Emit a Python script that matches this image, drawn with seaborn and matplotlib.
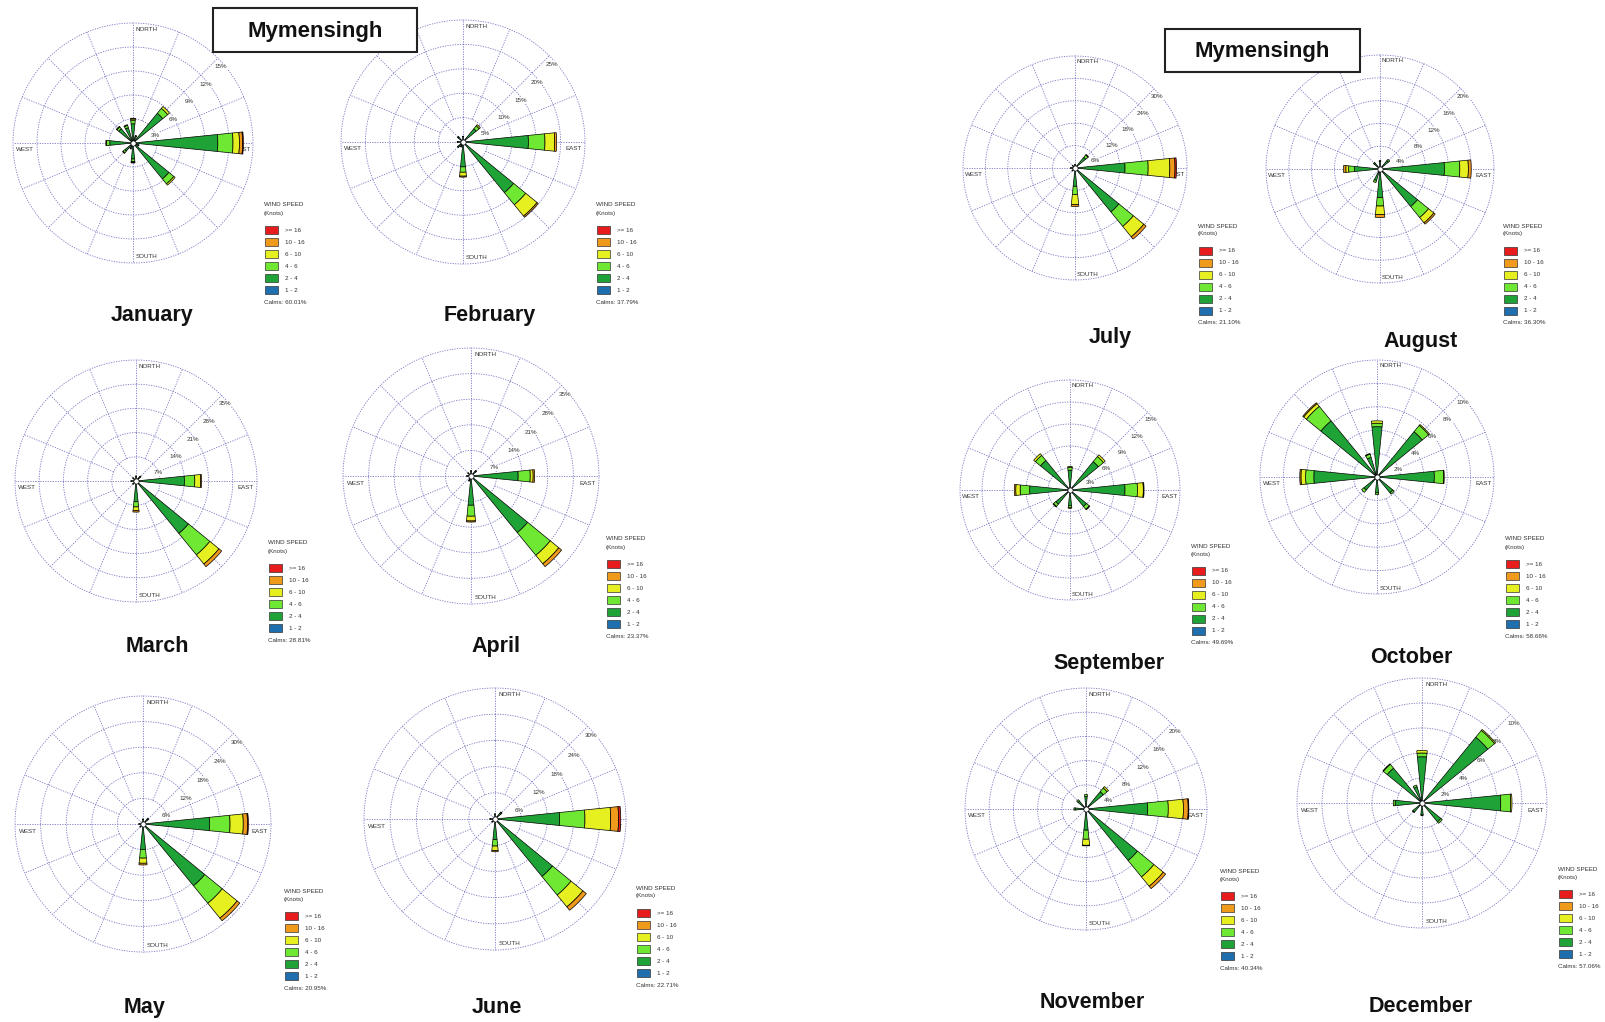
import numpy as np
import matplotlib
matplotlib.use("Agg")
import matplotlib.pyplot as plt
from matplotlib.patches import Rectangle
import seaborn as sns

sns.set_theme(style="white")
plt.rcParams["font.family"] = ["Liberation Sans", "DejaVu Sans"]

W, H = 1606, 1022

# ====== DATA ======
directions = ["N", "NNE", "NE", "ENE", "E", "ESE", "SE", "SSE",
              "S", "SSW", "SW", "WSW", "W", "WNW", "NW", "NNW"]
speed_labels = ["1 - 2", "2 - 4", "4 - 6", "6 - 10", "10 - 16", ">= 16"]
speed_colors = ["#1f6fae", "#1fa236", "#6ee832", "#e6f020", "#f09a1c", "#e81c1c"]

months = ["January", "February", "March", "April", "May", "June",
          "July", "August", "September", "October", "November", "December"]
ring_steps = [3, 5, 7, 7, 6, 6, 6, 4, 3, 2, 4, 2]
calms = [60.01, 37.79, 28.81, 23.37, 20.95, 22.71,
         21.10, 36.30, 49.69, 58.66, 40.34, 57.06]

# percent frequency per speed class [1-2, 2-4, 4-6, 6-10, 10-16, >=16]
jan = {"E": [0.3, 10.3, 1.9, 0.8, 0.4, 0.1], "NE": [0.2, 4.6, 0.8, 0.3, 0, 0],
       "SE": [0.2, 5.6, 0.8, 0.2, 0, 0], "N": [0.2, 2.2, 0.4, 0.2, 0.1, 0],
       "NNW": [0.2, 1.8, 0.3, 0.1, 0, 0], "NW": [0.2, 2.1, 0.3, 0.1, 0, 0],
       "W": [0.2, 2.7, 0.4, 0.1, 0, 0], "S": [0.2, 1.8, 0.3, 0.1, 0.1, 0],
       "SW": [0.1, 1.2, 0.3, 0.1, 0, 0], "ESE": [0.1, 0.6, 0.1, 0, 0, 0],
       "NNE": [0.1, 0.8, 0.1, 0, 0, 0], "SSW": [0.1, 0.6, 0.1, 0, 0, 0]}
feb = {"E": [0.3, 13.1, 3.4, 2.0, 0.4, 0], "SE": [0.3, 13.1, 3.2, 3.0, 0.3, 0],
       "S": [0.2, 4.9, 1.1, 0.8, 0.2, 0], "NE": [0.2, 3.3, 0.8, 0.3, 0, 0],
       "N": [0.1, 1.0, 0.1, 0, 0, 0], "NW": [0.1, 1.2, 0.2, 0, 0, 0],
       "W": [0.1, 1.0, 0.1, 0, 0, 0], "SW": [0.1, 1.2, 0.2, 0, 0, 0],
       "SSW": [0.1, 0.9, 0.1, 0, 0, 0]}
mar = {"E": [0.3, 13.7, 3.0, 1.7, 0.3, 0], "SE": [0.3, 19.3, 8.0, 3.4, 1.0, 0],
       "S": [0.2, 5.8, 1.5, 1.1, 0.4, 0], "NE": [0.1, 1.5, 0.3, 0, 0, 0],
       "N": [0.1, 1.2, 0.2, 0, 0, 0], "W": [0.1, 1.2, 0.2, 0, 0, 0],
       "NW": [0.1, 1.0, 0.2, 0, 0, 0], "SW": [0.1, 1.0, 0.2, 0, 0, 0]}
apr = {"E": [0.3, 12.6, 3.3, 0.8, 0.4, 0], "SE": [0.3, 19.7, 8.0, 3.0, 1.0, 0],
       "S": [0.2, 7.8, 3.0, 1.3, 0.3, 0], "NE": [0.1, 1.6, 0.3, 0, 0, 0],
       "N": [0.1, 1.2, 0.2, 0, 0, 0], "SSW": [0.1, 1.2, 0.2, 0, 0, 0],
       "W": [0.1, 1.0, 0.1, 0, 0, 0], "NW": [0.1, 1.0, 0.1, 0, 0, 0]}
may = {"E": [0.3, 15.3, 4.8, 3.1, 1.0, 0.2], "SE": [0.3, 18.4, 5.3, 4.5, 0.8, 0],
       "S": [0.2, 5.8, 2.0, 1.2, 0.4, 0], "NE": [0.1, 1.4, 0.3, 0, 0, 0],
       "N": [0.1, 1.0, 0.1, 0, 0, 0], "W": [0.1, 0.8, 0.1, 0, 0, 0],
       "SW": [0.1, 0.8, 0.1, 0, 0, 0]}
jun = {"E": [0.3, 14.5, 5.8, 5.9, 1.8, 0.5], "SE": [0.3, 16.7, 5.5, 3.5, 1.0, 0],
       "S": [0.2, 4.5, 1.5, 1.0, 0.3, 0], "NE": [0.1, 1.6, 0.3, 0.1, 0, 0],
       "N": [0.1, 1.0, 0.1, 0, 0, 0], "W": [0.1, 1.0, 0.1, 0, 0, 0],
       "SW": [0.1, 0.8, 0.1, 0, 0, 0]}
jul = {"E": [0.3, 13.1, 6.2, 5.8, 1.4, 0.4], "SE": [0.3, 14.9, 5.0, 3.6, 0.8, 0],
       "S": [0.2, 4.7, 2.2, 2.7, 0.5, 0], "NE": [0.1, 3.6, 0.8, 0.2, 0, 0],
       "N": [0.1, 0.8, 0.1, 0, 0, 0], "W": [0.1, 1.0, 0.1, 0, 0, 0],
       "NW": [0.1, 0.8, 0.1, 0, 0, 0], "SW": [0.1, 0.9, 0.1, 0, 0, 0]}
aug = {"E": [0.3, 11.0, 2.7, 1.5, 0.5, 0], "SE": [0.3, 8.2, 2.5, 1.2, 0.3, 0],
       "S": [0.2, 4.8, 1.5, 1.5, 0.5, 0], "W": [0.2, 4.3, 1.0, 0.5, 0.4, 0],
       "NE": [0.1, 1.8, 0.3, 0, 0, 0], "SSW": [0.1, 2.0, 0.4, 0, 0, 0],
       "N": [0.1, 1.2, 0.2, 0, 0, 0], "NW": [0.1, 1.2, 0.2, 0, 0, 0]}
sep = {"E": [0.3, 7.2, 1.7, 0.8, 0.1, 0], "W": [0.2, 5.3, 1.3, 0.6, 0.2, 0],
       "NE": [0.2, 4.8, 0.9, 0.3, 0, 0], "NW": [0.2, 5.0, 0.9, 0.3, 0, 0],
       "N": [0.1, 2.6, 0.4, 0.1, 0, 0], "SE": [0.1, 2.8, 0.5, 0.1, 0, 0],
       "S": [0.1, 2.0, 0.3, 0.1, 0, 0], "SW": [0.1, 2.4, 0.4, 0.1, 0, 0]}
oct_ = {"NW": [0.1, 6.1, 1.6, 0.3, 0.1, 0], "W": [0.1, 5.3, 0.7, 0.4, 0.1, 0],
        "E": [0.1, 4.8, 0.8, 0.05, 0, 0], "NE": [0.1, 4.9, 0.7, 0.1, 0, 0],
        "N": [0.1, 4.2, 0.3, 0.2, 0, 0], "NNW": [0.05, 1.7, 0.3, 0.05, 0, 0],
        "S": [0.05, 1.3, 0.15, 0, 0, 0], "SW": [0.05, 1.4, 0.25, 0, 0, 0],
        "SE": [0.05, 1.7, 0.15, 0, 0, 0]}
nov = {"E": [0.3, 9.9, 3.4, 2.5, 0.8, 0.1], "SE": [0.3, 10.7, 3.5, 2.0, 0.5, 0],
       "S": [0.2, 3.3, 1.5, 1.0, 0.1, 0], "NE": [0.1, 3.6, 0.8, 0.3, 0, 0],
       "N": [0.1, 2.0, 0.3, 0, 0, 0], "W": [0.1, 1.7, 0.2, 0, 0, 0],
       "NW": [0.1, 1.6, 0.3, 0, 0, 0]}
dec = {"NE": [0.1, 6.7, 0.7, 0.1, 0, 0], "E": [0.1, 6.2, 0.8, 0.1, 0, 0],
       "N": [0.1, 3.6, 0.3, 0.2, 0, 0], "NW": [0.1, 3.5, 0.4, 0.05, 0, 0],
       "W": [0.05, 2.1, 0.15, 0, 0, 0], "SE": [0.05, 1.9, 0.15, 0, 0, 0],
       "NNW": [0.05, 1.3, 0.15, 0, 0, 0], "S": [0.05, 0.9, 0.05, 0, 0, 0],
       "SW": [0.05, 0.9, 0.05, 0, 0, 0]}
month_data = [jan, feb, mar, apr, may, jun, jul, aug, sep, oct_, nov, dec]

# ====== LAYOUT (pixels, y from top) ======
centers = [(133, 143), (463, 142), (136, 481), (471, 476), (143, 824), (495, 819),
           (1075, 168), (1380, 169), (1070, 490), (1377, 477), (1086, 809), (1422, 803)]
radii = [120, 122, 121, 128, 128, 131, 112, 114, 110, 117, 121, 125]
label_pos = [(152, 315), (490, 315), (157, 646), (496, 646), (145, 1007), (497, 1007),
             (1110, 338), (1421, 341), (1109, 664), (1411, 657), (1092, 1002), (1421, 1006)]
legend_pos = [(264, 203), (596, 203), (268, 541), (606, 537), (284, 889), (636, 886),
              (1198, 224), (1503, 224), (1191, 544), (1505, 537), (1220, 869), (1558, 867)]

GRID = "#7878c4"
palette = sns.color_palette(speed_colors)


def fx(x):
    return x / W


def fy(y):
    return 1 - y / H


def draw_rose(ax, data, step):
    outer = step * 5
    ax.set_theta_zero_location("N")
    ax.set_theta_direction(-1)
    ax.set_ylim(0, outer)
    ax.grid(False)
    ax.set_xticks([])
    ax.set_yticks([])
    ax.spines["polar"].set_visible(False)
    ax.set_facecolor("none")

    th = np.linspace(0, 2 * np.pi, 361)
    for i in range(1, 6):
        ax.plot(th, np.full_like(th, i * step), color=GRID, lw=0.6,
                ls=(0, (1.5, 1.5)), zorder=1, clip_on=False)
    for k in range(16):
        a = np.deg2rad(k * 22.5)
        start = 0 if k % 2 == 0 else step
        ax.plot([a, a], [start, outer], color=GRID, lw=0.6,
                ls=(0, (1.5, 1.5)), zorder=1, clip_on=False)

    # ring labels
    angs = [20, 31, 36, 39, 41]
    for i in range(1, 6):
        a = np.deg2rad(90 - angs[i - 1])
        ax.text(a, i * step * 0.97, f"{i * step}%", fontsize=4.5, color="#333333",
                ha="center", va="center", zorder=2,
                bbox=dict(facecolor="white", edgecolor="none", pad=0.3))

    # compass labels
    tk = dict(fontsize=4.5, color="#333333", ha="center", va="center",
              transform=ax.transAxes, zorder=2,
              bbox=dict(facecolor="white", edgecolor="none", pad=0.3))
    ax.text(0.557, 0.975, "NORTH", **tk)
    ax.text(0.557, 0.025, "SOUTH", **tk)
    ax.text(0.955, 0.472, "EAST", **tk)
    ax.text(0.05, 0.472, "WEST", **tk)

    width = np.deg2rad(11.5)
    for d, vals in data.items():
        a = np.deg2rad(directions.index(d) * 22.5)
        bottom = 0
        for k, v in enumerate(vals):
            if v <= 0:
                continue
            ax.bar(a, v, width=width, bottom=bottom, color=palette[k],
                   edgecolor="black", linewidth=0.5, zorder=3)
            bottom += v
    ax.scatter([0], [0], s=14, facecolor="white", edgecolor="black",
               linewidth=0.5, zorder=4)


def draw_legend(fig, x, y, calm):
    fig.text(fx(x), fy(y + 2), "WIND SPEED", fontsize=4.5, color="#333333",
             ha="left", va="center")
    fig.text(fx(x), fy(y + 10), "(Knots)", fontsize=4.5, color="#333333",
             ha="left", va="center")
    order = list(range(5, -1, -1))
    for j, k in enumerate(order):
        yc = y + 27 + 12 * j
        fig.add_artist(Rectangle((fx(x + 1), fy(yc + 4)), 13 / W, 8 / H,
                                 transform=fig.transFigure, facecolor=palette[k],
                                 edgecolor="#333333", linewidth=0.5))
        fig.text(fx(x + 21), fy(yc), speed_labels[k], fontsize=4.5,
                 color="#333333", ha="left", va="center")
    fig.text(fx(x), fy(y + 99), f"Calms: {calm:.2f}%", fontsize=4.5,
             color="#333333", ha="left", va="center")


fig = plt.figure(figsize=(W / 100, H / 100), dpi=100)
fig.patch.set_facecolor("white")

for i, m in enumerate(months):
    cx, cy = centers[i]
    r = radii[i]
    ax = fig.add_axes([fx(cx - r), fy(cy + r), 2 * r / W, 2 * r / H],
                      projection="polar")
    draw_rose(ax, month_data[i], ring_steps[i])
    lx, ly = label_pos[i]
    fig.text(fx(lx), fy(ly), m, fontsize=15.5, fontweight="bold",
             color="#111111", ha="center", va="center")
    gx, gy = legend_pos[i]
    draw_legend(fig, gx, gy, calms[i])

# title boxes
for (x0, y0, x1, y1) in [(213, 8, 417, 52), (1165, 29, 1360, 72)]:
    fig.add_artist(Rectangle((fx(x0), fy(y1)), (x1 - x0) / W, (y1 - y0) / H,
                             transform=fig.transFigure, facecolor="white",
                             edgecolor="#222222", linewidth=1.5))
    fig.text(fx((x0 + x1) / 2), fy((y0 + y1) / 2 + 1), "Mymensingh",
             fontsize=16, fontweight="bold", color="#111111",
             ha="center", va="center")

fig.savefig("out.png", dpi=100, facecolor="white")
